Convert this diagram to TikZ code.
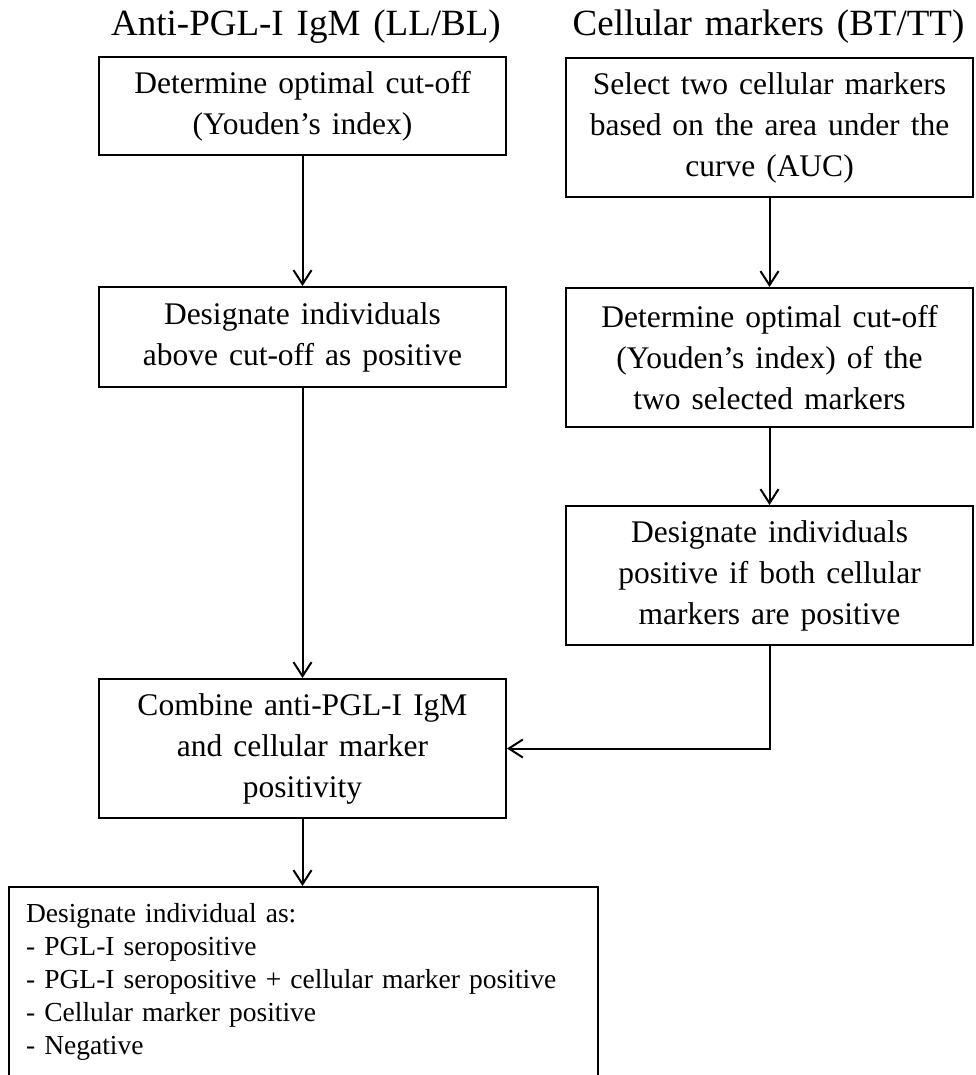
\documentclass[tikz,border=0pt]{standalone}
\usepackage{fontspec}
\setmainfont[WordSpace=1.4]{Liberation Serif}
\usetikzlibrary{arrows.meta,positioning}

\begin{document}
\begin{tikzpicture}[x=1pt,y=-1pt,
    box/.style={draw, line width=2pt, minimum width=407pt, inner sep=0pt, align=center, font=\fontsize{31.5}{41}\selectfont},
    arr/.style={-{Straight Barb[length=14pt,width=18pt]}, line width=2pt}]
  \clip (0,0) rectangle (975,1075);
  % column titles
  \node[font=\fontsize{37}{40}\selectfont] (tigm) at (306,27) {Anti-PGL-I IgM (LL/BL)};
  \node[font=\fontsize{37}{40}\selectfont] (tcell) at (768.5,27) {Cellular markers (BT/TT)};
  % left column
  \node[box, minimum height=98pt] (igm1) at (302.5,106) {Determine optimal cut-off\\(Youden’s index)};
  \node[box, minimum height=100pt] (igm2) at (302.5,337) {Designate individuals\\above cut-off as positive};
  \node[box, minimum height=139pt] (comb) at (302.5,748.5) {Combine anti-PGL-I IgM\\and cellular marker\\positivity};
  % right column
  \node[box, minimum height=139pt] (cell1) at (769.5,127.5) {Select two cellular markers\\based on the area under the\\curve (AUC)};
  \node[box, minimum height=139pt] (cell2) at (769.5,357.5) {Determine optimal cut-off\\(Youden’s index) of the\\two selected markers};
  \node[box, minimum height=139pt] (cell3) at (769.5,575.5) {Designate individuals\\positive if both cellular\\markers are positive};
  % outcome
  \node[box, anchor=north west, minimum width=589pt, minimum height=190pt, text width=555pt, align=left,
        font=\fontsize{27.5}{33}\selectfont] (result) at (8,886)
    {Designate individual as:\\- PGL-I seropositive\\- PGL-I seropositive + cellular marker positive\\- Cellular marker positive\\- Negative};
  \draw[arr] (igm1) -- (igm2);
  \draw[arr] (igm2) -- (comb);
  \draw[arr] (cell1) -- (cell2);
  \draw[arr] (cell2) -- (cell3);
  \draw[arr] (cell3.south) |- (comb.east);
  \draw[arr] (comb.south) -- (comb.south |- result.north);
\end{tikzpicture}
\end{document}
